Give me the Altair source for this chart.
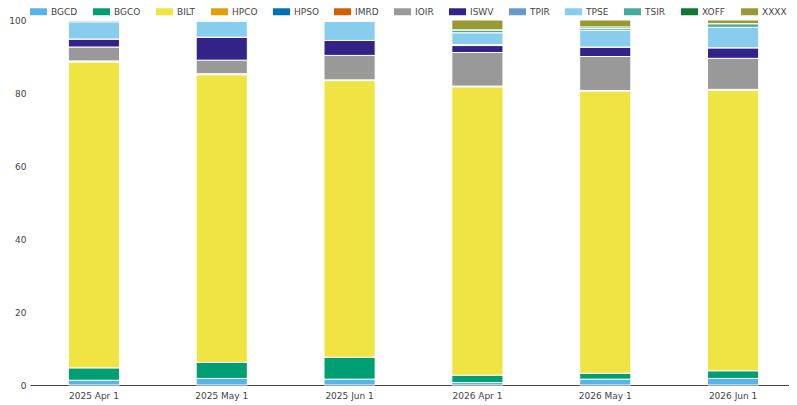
import altair as alt
import pandas as pd

dates = ["2025 Apr 1", "2025 May 1", "2025 Jun 1", "2026 Apr 1", "2026 May 1", "2026 Jun 1"]

codes = ["BGCD", "BGCO", "BILT", "HPCO", "HPSO", "IMRD", "IOIR",
         "ISWV", "TPIR", "TPSE", "TSIR", "XOFF", "XXXX"]
colors = ["#56B4E9", "#009E73", "#F0E442", "#E69F00", "#0072B2", "#D55E00", "#999999",
          "#332288", "#6699CC", "#88CCEE", "#44AA99", "#117733", "#999933"]

# share (%) per date, one list per code
BGCD = [1.3, 1.8, 1.6, 0.7, 1.6, 1.8]
BGCO = [3.4, 4.4, 6.0, 2.0, 1.6, 2.1]
BILT = [83.8, 78.8, 75.8, 79.0, 77.3, 76.9]
HPCO = [0.3, 0.3, 0.1, 0.2, 0.2, 0.1]
HPSO = [0, 0, 0, 0, 0, 0]
IMRD = [0, 0, 0.1, 0, 0, 0.1]
IOIR = [3.8, 3.7, 6.7, 9.2, 9.3, 8.5]
ISWV = [2.2, 6.3, 4.1, 1.9, 2.6, 2.9]
TPIR = [0, 0, 0, 0.3, 0, 0]
TPSE = [4.7, 4.4, 5.2, 3.2, 4.6, 5.6]
TSIR = [0.5, 0.3, 0.4, 0.8, 0.5, 1.0]
XOFF = [0, 0, 0, 0, 0.4, 0]
XXXX = [0, 0, 0, 2.7, 1.9, 1.0]

series = [BGCD, BGCO, BILT, HPCO, HPSO, IMRD, IOIR, ISWV, TPIR, TPSE, TSIR, XOFF, XXXX]

rows = []
for i, (code, vals) in enumerate(zip(codes, series)):
    for d, v in zip(dates, vals):
        rows.append({"date": d, "code": code, "share": v, "idx": i})
df = pd.DataFrame(rows)

font = "DejaVu Sans"
rect_path = "M-1,-0.41H1V0.41H-1Z"

chart = (
    alt.Chart(df)
    .mark_bar(stroke="white", strokeWidth=1)
    .encode(
        x=alt.X(
            "date:N",
            sort=dates,
            title=None,
            scale=alt.Scale(paddingInner=0.6, paddingOuter=0.3),
            axis=alt.Axis(labelAngle=0, ticks=False, labelPadding=6,
                          domainColor="#444", labelColor="#444",
                          labelFont=font, labelFontSize=9),
        ),
        y=alt.Y(
            "share:Q",
            stack="zero",
            title=None,
            scale=alt.Scale(domain=[0, 100], nice=False),
            axis=alt.Axis(values=[0, 20, 40, 60, 80, 100], grid=False, domain=False,
                          ticks=False, labelPadding=4, labelColor="#444",
                          labelFont=font, labelFontSize=9),
        ),
        color=alt.Color(
            "code:N",
            scale=alt.Scale(domain=codes, range=colors),
            title=None,
            legend=alt.Legend(
                orient="none", direction="horizontal", legendX=0, legendY=-17,
                columns=13, padding=0, columnPadding=15, labelOffset=4,
                symbolType=rect_path, symbolSize=289, symbolStrokeWidth=0,
                labelFont=font, labelFontSize=9, labelColor="#444",
            ),
        ),
        order=alt.Order("idx:Q", sort="ascending"),
        tooltip=["date:N", "code:N", "share:Q"],
    )
    .properties(
        width=767,
        height=365,
        autosize=alt.AutoSizeParams(type="none"),
        padding={"left": 22, "top": 12, "right": -8, "bottom": 16},
    )
    .configure_view(stroke=None)
)

chart.save("out.html", embed_options={"renderer": "svg", "actions": False})
